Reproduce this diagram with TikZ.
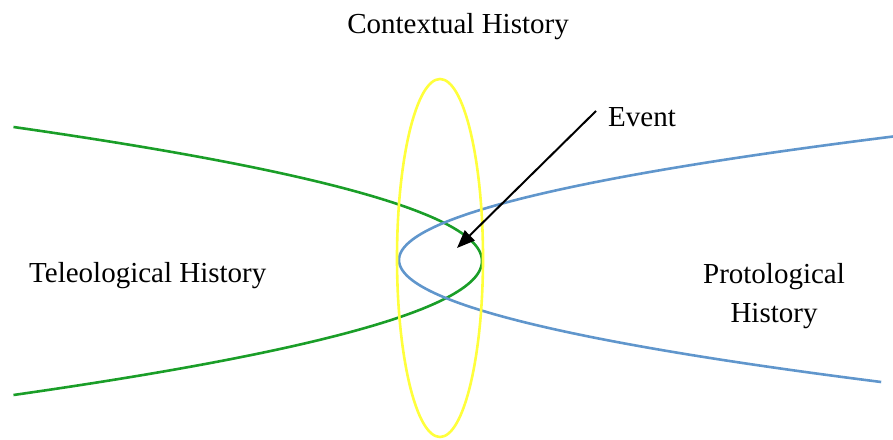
\documentclass[tikz,border=0pt]{standalone}
\usepackage{fontspec}
\setmainfont{Liberation Serif}
\usetikzlibrary{arrows.meta,shapes.geometric}
\definecolor{tgreen}{RGB}{26,158,40}
\definecolor{pblue}{RGB}{96,150,204}
\definecolor{cyellow}{RGB}{255,255,60}
\begin{document}
\begin{tikzpicture}[x=1pt,y=-1pt,
  lbl/.style={font=\fontsize{29}{39}\selectfont, inner sep=0pt, anchor=base},
  curve/.style={line width=2.6pt}]
\useasboundingbox (0,0) rectangle (893,439);
% curves
\draw[curve, tgreen] plot[domain=-134:134, samples=120, smooth] ({482-0.0261*(\x)*(\x)},{261+(\x)});
\draw[curve, pblue] plot[domain=-123.5:122, samples=120, smooth] ({399+0.0324*(\x)*(\x)},{260+(\x)});
\node[draw=cyellow, line width=2.6pt, ellipse, minimum width=86pt, minimum height=358pt, inner sep=0pt] (ctx) at (440,258) {};
% labels
\node[lbl] (contextual) at (458,33) {Contextual History};
\node[lbl, anchor=base west] (event) at (608,126) {Event};
\node[lbl, anchor=base west] (teleo) at (29,282) {Teleological History};
\node[lbl, align=center, anchor=base] (proto) at (774,322) {Protological\\History};
% arrow
\coordinate (evstart) at (596,111);
\coordinate (evtip) at (457,248);
\draw[line width=2pt, -{Triangle[length=18pt,width=14pt]}] (evstart) -- (evtip);
\end{tikzpicture}
\end{document}
